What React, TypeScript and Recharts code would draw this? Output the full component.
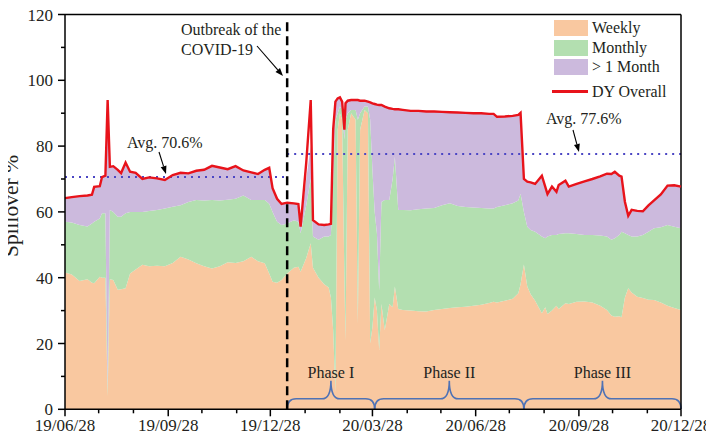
import React from 'react'
import { ComposedChart, Area, Line, XAxis, YAxis, ReferenceLine, ReferenceArea } from 'recharts'

const dates = [
  '2019-06-28', '2019-07-04', '2019-07-11', '2019-07-18', '2019-07-22', '2019-07-24', '2019-07-29', '2019-07-31', '2019-08-03', '2019-08-05',
  '2019-08-07', '2019-08-10', '2019-08-14', '2019-08-17', '2019-08-21', '2019-08-25', '2019-08-30', '2019-09-05', '2019-09-11', '2019-09-18',
  '2019-09-25', '2019-10-02', '2019-10-09', '2019-10-16', '2019-10-23', '2019-10-30', '2019-11-06', '2019-11-13', '2019-11-20', '2019-11-27',
  '2019-12-04', '2019-12-11', '2019-12-17', '2019-12-23', '2019-12-27', '2019-12-30', '2020-01-03', '2020-01-07', '2020-01-12',
  '2020-01-18', '2020-01-22', '2020-01-24', '2020-01-29', '2020-02-02', '2020-02-04', '2020-02-09', '2020-02-14', '2020-02-18', '2020-02-20',
  '2020-02-22', '2020-02-24', '2020-02-26', '2020-02-28', '2020-03-01', '2020-03-03', '2020-03-04', '2020-03-06', '2020-03-09', '2020-03-13',
  '2020-03-15', '2020-03-17', '2020-03-21', '2020-03-24', '2020-03-26', '2020-03-28', '2020-03-30', '2020-04-01', '2020-04-03', '2020-04-05',
  '2020-04-08', '2020-04-12', '2020-04-15', '2020-04-17', '2020-04-20',
  '2020-04-24', '2020-05-01', '2020-05-08', '2020-05-15', '2020-05-22', '2020-05-29', '2020-06-05', '2020-06-12', '2020-06-19', '2020-06-26',
  '2020-07-03', '2020-07-10', '2020-07-14', '2020-07-17', '2020-07-24', '2020-07-31', '2020-08-05', '2020-08-07', '2020-08-10', '2020-08-13',
  '2020-08-16', '2020-08-20', '2020-08-26', '2020-08-29', '2020-08-31', '2020-09-04', '2020-09-08', '2020-09-10', '2020-09-16', '2020-09-19',
  '2020-09-26', '2020-10-03', '2020-10-10', '2020-10-17', '2020-10-23', '2020-10-27', '2020-10-30', '2020-11-03', '2020-11-05', '2020-11-08',
  '2020-11-11', '2020-11-14', '2020-11-19', '2020-11-24', '2020-11-29', '2020-12-04', '2020-12-10', '2020-12-16', '2020-12-22', '2020-12-28',
]

const weekly = [
  41.6, 41, 39, 39.5, 38.5, 38.3, 40.3, 40, 40, 4,
  39.5, 39.3, 36.3, 36.5, 36.8, 41.3, 42.5, 43.9, 43.5, 43.6,
  43.5, 44.5, 46.4, 45.5, 44.4, 43.5, 42.8, 43.5, 44.7, 44.5,
  45, 46.4, 45, 44.4, 41.3, 38.8, 38.5, 39.3, 41.3,
  43, 43.3, 41.8, 46, 50.5, 43, 40, 38, 37, 34,
  24, 5, 85, 90, 88, 40, 21, 85, 90, 88,
  26, 85, 91, 90, 20, 25, 34, 30, 18, 32,
  24, 32, 31, 37.3, 30.5,
  30.2, 30, 29.8, 29.7, 30.2, 30.5, 30.8, 31, 31.2, 31.5,
  31.8, 32.3, 32.7, 32.5, 33, 33.6, 35.3, 38, 44, 37.3,
  35, 33, 29.2, 31, 29, 30, 31.5, 30.5, 32.2, 32,
  32.7, 32.8, 32.5, 31.5, 30.2, 28.5, 28.1, 28.3, 28, 34,
  36.8, 35.5, 34.2, 33.8, 33.3, 33.2, 32.5, 31.5, 30.8, 30.2,
]

const monthly = [
  15.4, 15.8, 17, 16.1, 18, 18.7, 17.7, 19.6, 19.6, 2,
  21.1, 20.7, 22.2, 22, 22.8, 18.7, 17.5, 16.1, 16.8, 17,
  17.5, 17.1, 15.6, 17.5, 19.2, 20, 20.8, 20, 19, 19.5,
  20, 17.2, 18.6, 19.2, 21.2, 21.2, 18.5, 16.7, 15.2,
  14.5, 13.7, 11.7, 16, 19.5, 9.5, 11.5, 14.5, 15.5, 19,
  46, 83, 5, 2, 3, 42, 67, 5, 1, 3,
  62, 5, 1, 2, 68, 47.7, 26, 23.5, 18, 31,
  39.6, 31.6, 39, 39.5, 30.1,
  30.4, 30.5, 31, 31.3, 31, 31.5, 31.8, 30.8, 30.3, 29.8,
  29.4, 28.7, 28.3, 29, 29, 29, 28.2, 27.5, 16, 18.2,
  19.5, 21, 23.3, 21, 23.5, 23, 21.5, 22.8, 21.3, 21.5,
  20.6, 20.2, 20.5, 21.3, 22.3, 23, 23.9, 24.7, 26, 19.5,
  16.2, 17, 18.3, 19.2, 20.7, 21.8, 22.8, 24.5, 24.7, 24.8,
]

const longTerm = [
  7.2, 7.7, 8.8, 9.4, 8.7, 10.6, 9.8, 11, 11.4, 88,
  13.1, 13.9, 14.3, 13.3, 15.4, 12.2, 11.9, 10, 10.2, 9.6,
  8.7, 9.6, 9.9, 8.7, 8.9, 9.3, 10.4, 10, 9.3, 9.9,
  7.6, 8.4, 7.9, 9.2, 10.9, 7.2, 7, 6.4, 6.3,
  5.1, 5.4, 2, 8, 10, 5, 4.5, 3.5, 3.7, 3.4,
  10, 5.5, 4.5, 2.8, 2.5, 3, 5, 3.8, 3, 3,
  6, 3.8, 1.8, 1.5, 5.3, 20.3, 32.8, 39.1, 56.5, 29.5,
  28.4, 27.9, 21.3, 14.4, 30.6,
  30.4, 30.2, 29.9, 29.5, 29.3, 28.4, 27.7, 28.4, 28.6, 28.7,
  28.8, 28.8, 28.8, 27.4, 27, 26.6, 26, 24.6, 10, 13.7,
  14.5, 14.5, 18.5, 15.7, 12.9, 14.7, 13.1, 14.9, 16, 14.2,
  15.2, 16.3, 17, 18, 19.1, 20, 20.2, 18, 16.7, 9.6,
  5.8, 8.1, 7.8, 7.2, 8, 8.5, 10, 12, 12.6, 12.7,
]

const overall = [
  64.2, 64.5, 64.8, 65, 65.2, 67.6, 67.8, 70.6, 71, 94,
  73.7, 73.9, 72.8, 71.8, 75, 72.2, 71.9, 70, 70.5, 70.2,
  69.7, 71.2, 71.9, 71.7, 72.5, 72.8, 74, 73.5, 73, 73.9,
  72.6, 72, 71.5, 72.8, 73.4, 67.2, 64, 62.4, 62.8,
  62.6, 62.4, 55.5, 75, 94, 57.5, 56.2, 56, 56.2, 56.4,
  85, 93.5, 94.5, 94.8, 93.5, 85, 93, 93.8, 94, 94,
  94, 93.8, 93.8, 93.5, 93.3, 93, 92.8, 92.6, 92.5, 92.5,
  92, 91.5, 91.3, 91.2, 91.2,
  91, 90.7, 90.7, 90.5, 90.5, 90.4, 90.3, 90.2, 90.1, 90,
  90, 89.8, 89.8, 88.9, 89, 89.2, 89.5, 90.1, 70, 69.2,
  69, 68.5, 71, 67.7, 65.4, 67.7, 66.1, 68.2, 69.5, 67.7,
  68.5, 69.3, 70, 70.8, 71.6, 71.5, 72.2, 71, 70.7, 63.1,
  58.8, 60.6, 60.3, 60.2, 62, 63.5, 65.3, 68, 68.1, 67.7,
]

// monthly ticks, every third one gets a label
const tickDates = [
  '2019-06-28', '2019-07-28', '2019-08-28', '2019-09-28', '2019-10-28', '2019-11-28', '2019-12-28',
  '2020-01-28', '2020-02-28', '2020-03-28', '2020-04-28', '2020-05-28', '2020-06-28', '2020-07-28',
  '2020-08-28', '2020-09-28', '2020-10-28', '2020-11-28', '2020-12-28',
]
const yTicks = [0, 10, 20, 30, 40, 50, 60, 70, 80, 90, 100, 110, 120]

const outbreakDate = '2020-01-12'
const averages = [
  { from: '2019-06-28', to: '2020-01-12', value: 70.6 },
  { from: '2020-01-12', to: '2020-12-28', value: 77.6 },
]
const phases = [
  { name: 'Phase I', from: '2020-01-12', to: '2020-03-30' },
  { name: 'Phase II', from: '2020-03-30', to: '2020-08-10' },
  { name: 'Phase III', from: '2020-08-10', to: '2020-12-28' },
]

const series = [
  { key: 'weekly', name: 'Weekly', color: '#f9c8a0' },
  { key: 'monthly', name: 'Monthly', color: '#b3dfb0' },
  { key: 'longTerm', name: '> 1 Month', color: '#ccbadd' },
]
const overallColor = '#e8131b'

const FONT = '"Liberation Serif", "Times New Roman", serif'
const INK = '#231f20'
const BRACE = '#4f72b5'

const toT = (d: string) => Date.parse(d + 'T00:00:00Z')
const fmtDate = (d: string) => d.slice(2).replace(/-/g, '/')

const data = dates.map((d, i) => ({
  t: toT(d),
  weekly: weekly[i],
  monthly: monthly[i],
  longTerm: longTerm[i],
  overall: overall[i],
}))

const xStart = toT(tickDates[0])
const xEnd = toT(tickDates[tickDates.length - 1])

const XTick = ({ x, y, payload }: any) => {
  const idx = tickDates.findIndex((d) => toT(d) === payload.value)
  const major = idx % 3 === 0
  return (
    <g>
      <line x1={x} x2={x} y1={y} y2={y + (major ? 7 : 4)} stroke="#000" strokeWidth={1.5} />
      {major && (
        <text x={x} y={y + 22} textAnchor="middle" fontSize={17} fontFamily={FONT} fill={INK}>
          {fmtDate(tickDates[idx])}
        </text>
      )}
    </g>
  )
}

const YTick = ({ x, y, payload }: any) => {
  const major = payload.value % 20 === 0
  return (
    <g>
      <line x1={x} x2={x - (major ? 7 : 4)} y1={y} y2={y} stroke="#000" strokeWidth={1.5} />
      {major && (
        <text x={x - 12} y={y + 6} textAnchor="end" fontSize={17} fontFamily={FONT} fill={INK}>
          {payload.value}
        </text>
      )}
    </g>
  )
}

const Brace = ({ x, y, width, height, name }: any) => {
  const b = y + height
  const hy = b - 10.5
  const cx = x + width / 2
  const r = 9
  const d = `M${x},${b} Q${x},${hy} ${x + r},${hy} L${cx - r},${hy} Q${cx},${hy} ${cx},${y} Q${cx},${hy} ${cx + r},${hy} L${x + width - r},${hy} Q${x + width},${hy} ${x + width},${b}`
  return (
    <g>
      <path d={d} fill="none" stroke={BRACE} strokeWidth={1.6} />
      <text x={cx} y={y - 3} textAnchor="middle" fontSize={16} fontFamily={FONT} fill={INK}>
        {name}
      </text>
    </g>
  )
}

const Arrow = ({ x1, y1, x2, y2 }: any) => {
  const a = Math.atan2(y2 - y1, x2 - x1)
  const len = 8
  const w = 3
  const bx = x2 - len * Math.cos(a)
  const by = y2 - len * Math.sin(a)
  const pts = `${x2},${y2} ${bx + w * Math.sin(a)},${by - w * Math.cos(a)} ${bx - w * Math.sin(a)},${by + w * Math.cos(a)}`
  return (
    <g>
      <line x1={x1} y1={y1} x2={bx} y2={by} stroke="#000" strokeWidth={1.1} />
      <polygon points={pts} fill="#000" />
    </g>
  )
}

const Legend = () => (
  <div style={{ position: 'absolute', left: 554, top: 20, fontFamily: FONT, fontSize: 16, color: INK }}>
    {series.map((s, i) => (
      <div key={s.key} style={{ position: 'absolute', top: i * 19.5, left: 0, height: 16, display: 'flex', alignItems: 'center', whiteSpace: 'nowrap' }}>
        <div style={{ width: 34, height: 16, background: s.color, marginRight: 4 }} />
        <span>{s.name}</span>
      </div>
    ))}
    <div style={{ position: 'absolute', top: 3 * 19.5 + 5, left: -2, height: 16, display: 'flex', alignItems: 'center', whiteSpace: 'nowrap' }}>
      <div style={{ width: 36, height: 2.5, background: overallColor, marginRight: 4 }} />
      <span>DY Overall</span>
    </div>
  </div>
)

export default function App() {
  const W = 714
  const H = 445
  const top = 14.5
  const bottom = 409.3
  return (
    // cancel the body margin so the chart sits at the page origin
    <div style={{ position: 'relative', width: W, height: H, margin: '-8px 0 0 -8px' }}>
      <ComposedChart width={W} height={H} data={data} margin={{ top, right: 33, bottom: 0, left: 20 }}>
        <XAxis
          dataKey="t"
          type="number"
          domain={[xStart, xEnd]}
          ticks={tickDates.map(toT)}
          interval={0}
          tick={<XTick />}
          tickLine={false}
          tickSize={0}
          tickMargin={0}
          height={H - bottom}
          axisLine={{ stroke: '#000', strokeWidth: 1.5 }}
        />
        <YAxis
          type="number"
          domain={[0, 120]}
          ticks={yTicks}
          interval={0}
          tick={<YTick />}
          tickLine={false}
          tickSize={0}
          tickMargin={0}
          width={45}
          axisLine={{ stroke: '#000', strokeWidth: 1.5 }}
        />
        {series.map((s) => (
          <Area
            key={s.key}
            dataKey={s.key}
            name={s.name}
            stackId="spill"
            type="linear"
            fill={s.color}
            fillOpacity={1}
            stroke="none"
            isAnimationActive={false}
          />
        ))}
        {averages.map((a) => (
          <ReferenceLine
            key={a.value}
            segment={[{ x: toT(a.from), y: a.value }, { x: toT(a.to), y: a.value }]}
            stroke="#4b46c4"
            strokeWidth={2}
            strokeDasharray="2 5"
          />
        ))}
        <ReferenceLine
          segment={[{ x: toT(outbreakDate), y: 0 }, { x: toT(outbreakDate), y: 118.5 }]}
          stroke="#000"
          strokeWidth={2.5}
          strokeDasharray="9 5"
        />
        <ReferenceLine y={120} stroke="#000" strokeWidth={1.5} />
        <ReferenceLine x={xEnd} stroke="#000" strokeWidth={1.5} />
        {phases.map((p) => (
          <ReferenceArea
            key={p.name}
            x1={toT(p.from)}
            x2={toT(p.to)}
            y1={0}
            y2={8.7}
            shape={(props: any) => <Brace {...props} name={p.name} />}
          />
        ))}
        <Line
          dataKey="overall"
          name="DY Overall"
          type="linear"
          stroke={overallColor}
          strokeWidth={2.4}
          dot={false}
          isAnimationActive={false}
        />
        <text x={181} y={35} fontSize={16} fontFamily={FONT} fill={INK}>Outbreak of the</text>
        <text x={181} y={55} fontSize={16} fontFamily={FONT} fill={INK}>COVID-19</text>
        <Arrow x1={257} y1={46} x2={283} y2={76} />
        <text x={127} y={148} fontSize={16} fontFamily={FONT} fill={INK}>Avg. 70.6%</text>
        <Arrow x1={159} y1={152} x2={166} y2={174} />
        <text x={546} y={124} fontSize={16} fontFamily={FONT} fill={INK}>Avg. 77.6%</text>
        <Arrow x1={573} y1={130} x2={579} y2={152} />
        <text
          transform="translate(18, 206) rotate(-90)"
          textAnchor="middle"
          fontSize={21.5}
          fontFamily={FONT}
          fill={INK}
        >
          Spillover %
        </text>
      </ComposedChart>
      <Legend />
    </div>
  )
}
